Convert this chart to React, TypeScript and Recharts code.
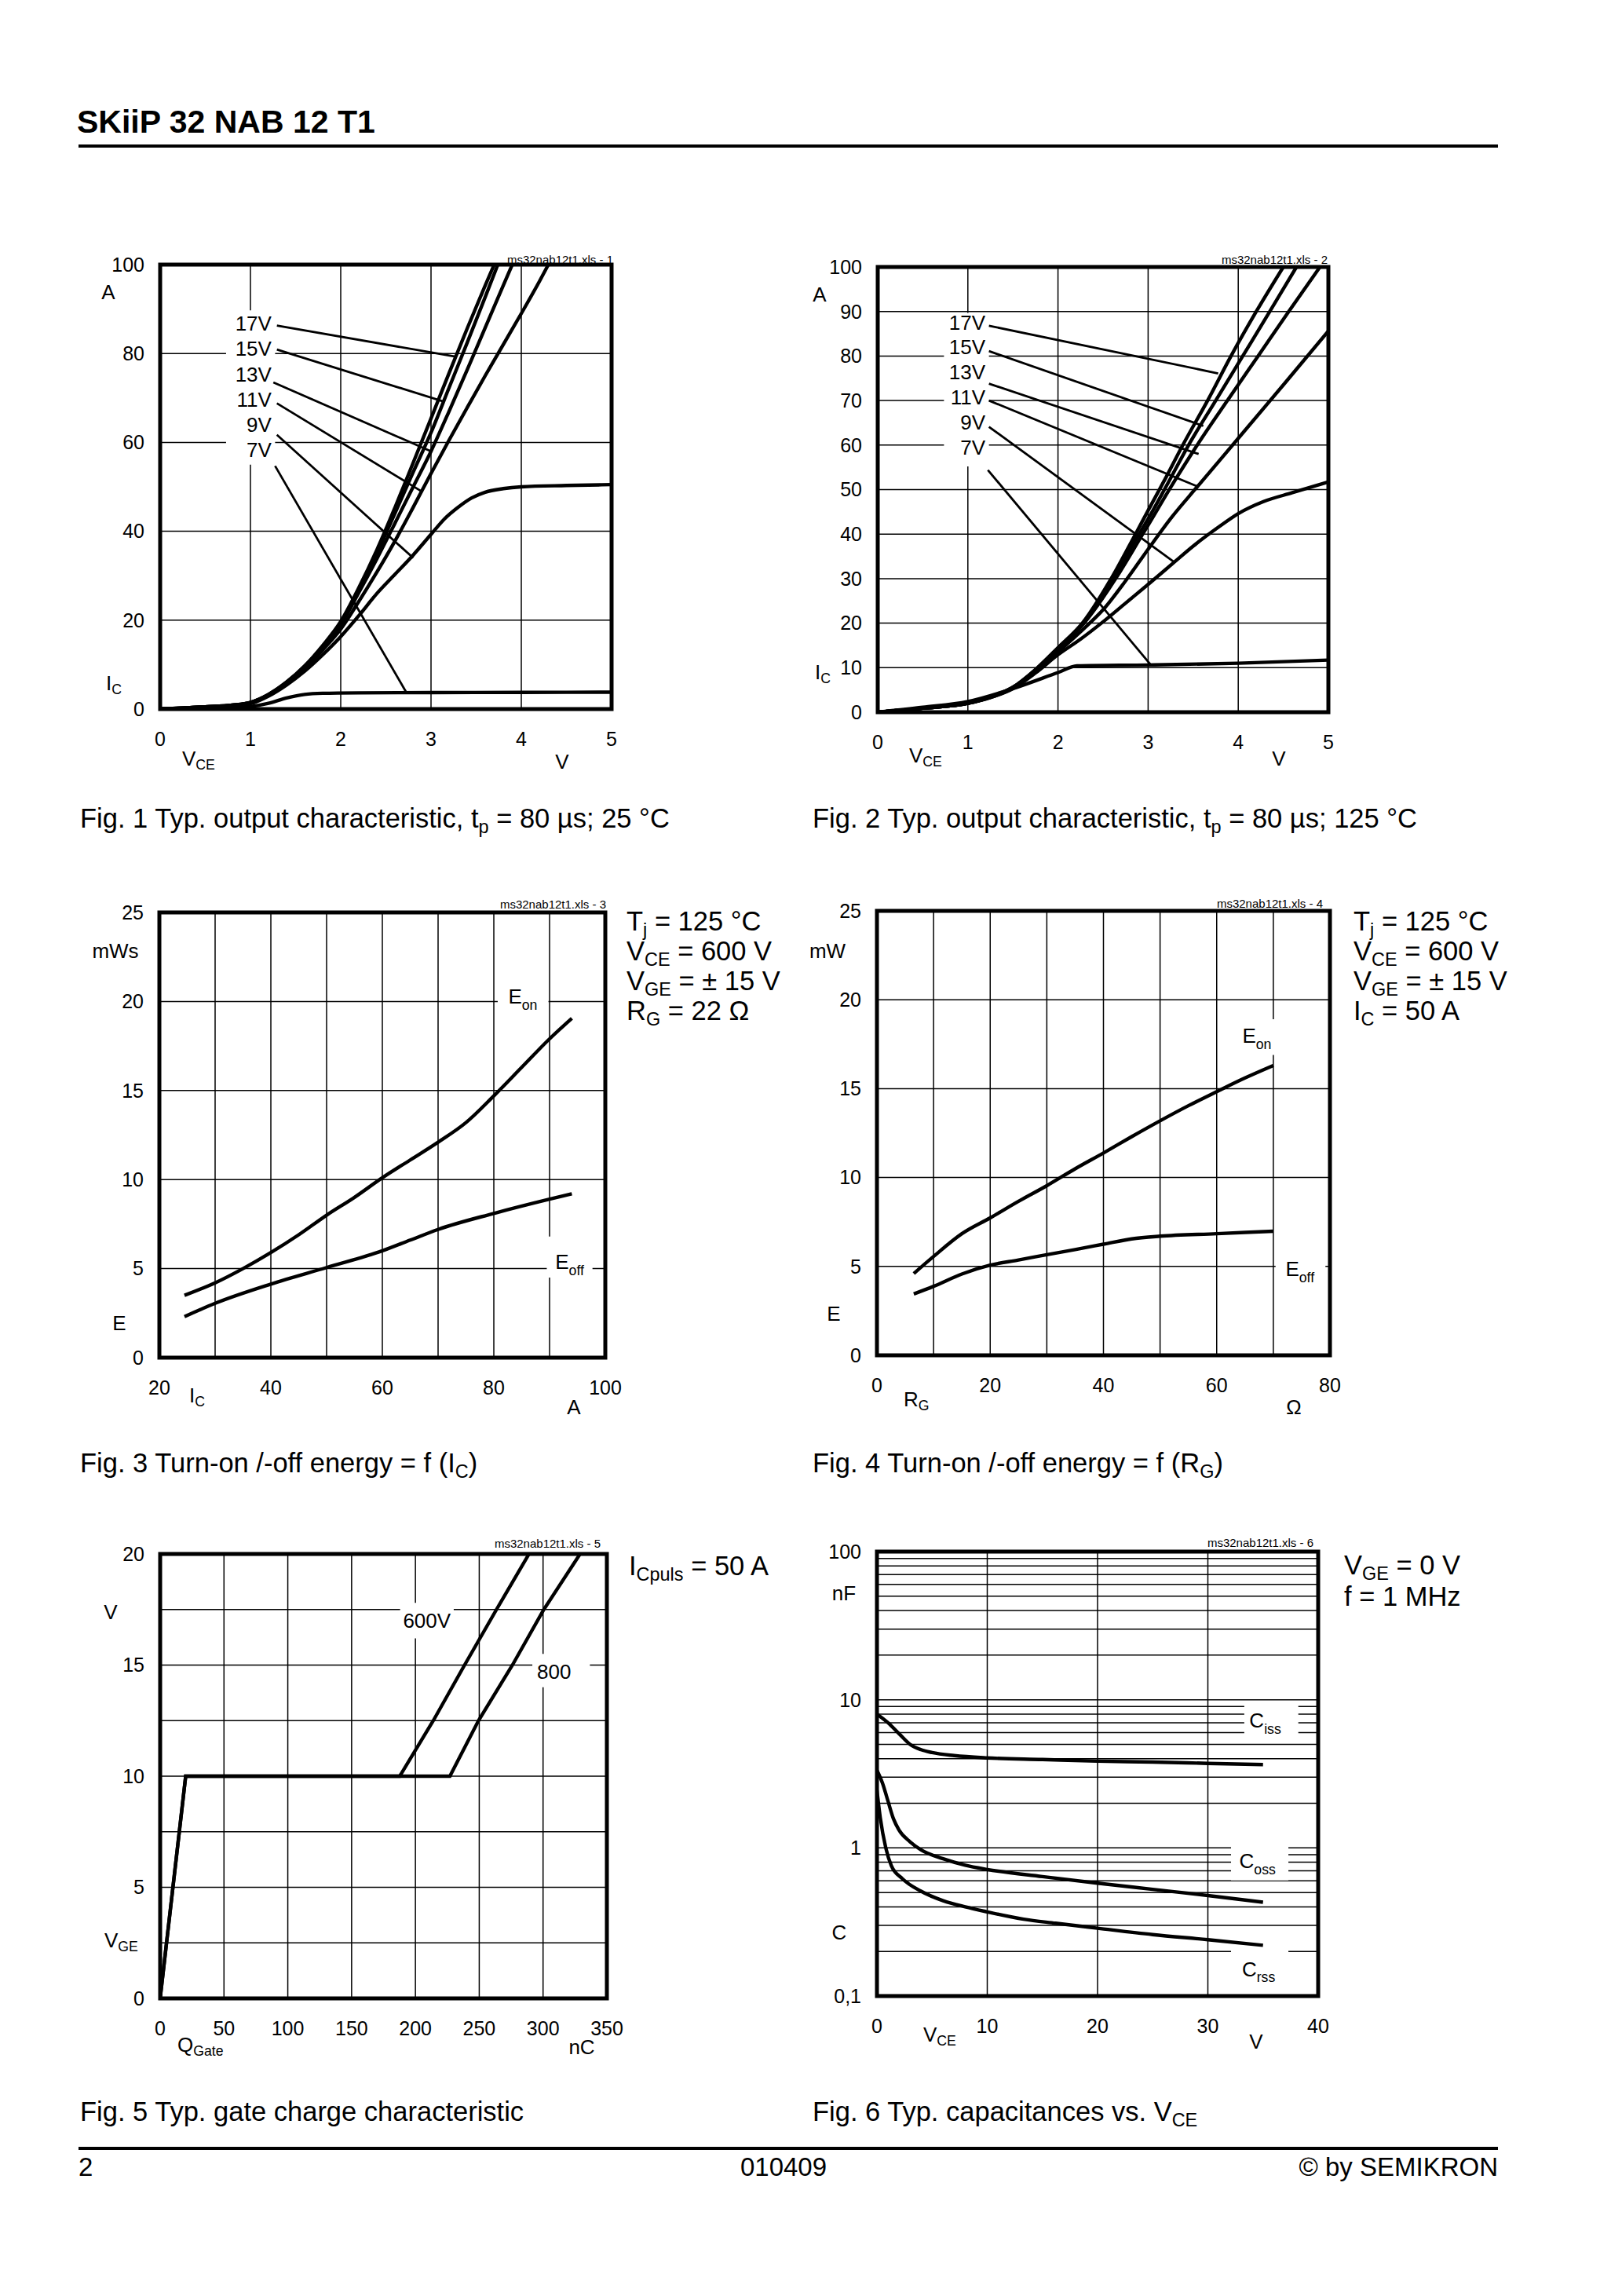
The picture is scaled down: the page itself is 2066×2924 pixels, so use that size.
import React from "react";
import {
  LineChart,
  Line,
  XAxis,
  YAxis,
  CartesianGrid,
  ReferenceArea,
  ReferenceLine,
  ReferenceDot,
} from "recharts";

const FONT = '"Liberation Sans", Arial, Helvetica, sans-serif';

type P = [number, number];

// ---- Fig. 1: output characteristic, 25 °C  (VCE in V, IC in A) ----
const f1_17V: P[] = [[0,0],[0.5,0.5],[0.8,0.9],[1,1.5],[1.2,3.3],[1.4,6.1],[1.6,9.7],[1.8,14.3],[2,19.7],[2.2,27.3],[2.4,35.8],[2.6,45.3],[2.8,55.3],[3,65.4],[3.2,75.6],[3.4,85.6],[3.6,95.3],[3.7,100]];
const f1_15V: P[] = [[0,0],[0.5,0.5],[0.8,0.9],[1,1.5],[1.2,3.3],[1.4,6],[1.6,9.6],[1.8,14.1],[2,19.4],[2.2,26.8],[2.4,35],[2.6,44],[2.8,53.2],[3,62.2],[3.2,72.3],[3.4,82.4],[3.6,92.7],[3.74,100]];
const f1_13V: P[] = [[0,0],[0.5,0.5],[0.8,0.9],[1,1.5],[1.2,3.2],[1.4,5.9],[1.6,9.4],[1.8,13.8],[2,19],[2.2,26.2],[2.4,33.8],[2.6,41.8],[2.8,49.9],[3,58],[3.2,67],[3.4,76.3],[3.6,85.8],[3.8,95.3],[3.9,100]];
const f1_11V: P[] = [[0,0],[0.5,0.5],[0.8,0.8],[1,1.4],[1.2,3.1],[1.4,5.7],[1.6,9.1],[1.8,13.3],[2,18],[2.2,24.2],[2.4,30.8],[2.6,37.8],[2.8,45.3],[3,53],[3.2,60.5],[3.4,67.8],[3.6,75],[3.8,82],[4,89],[4.2,96.2],[4.3,100]];
const f1_9V: P[] = [[0,0],[0.5,0.4],[0.8,0.7],[1,1.2],[1.2,2.9],[1.4,5.4],[1.6,8.5],[1.8,12.2],[2,16.3],[2.2,21],[2.4,26],[2.6,30.3],[2.8,34.6],[3,39.3],[3.15,42.8],[3.3,45.4],[3.45,47.5],[3.6,48.8],[3.8,49.6],[4,50],[4.5,50.3],[5,50.5]];
const f1_7V: P[] = [[0,0],[0.5,0.3],[1,0.6],[1.2,1.3],[1.4,2.5],[1.6,3.3],[1.8,3.55],[2.2,3.65],[3,3.7],[4,3.75],[5,3.8]];
const fig1Gate = ["17V", "15V", "13V", "11V", "9V", "7V"];
const fig1GateY = [86.8, 81.1, 75.4, 69.7, 64.0, 58.3];
const fig1LeadFrom: P[] = [[1.293,86.3],[1.293,80.9],[1.254,73.5],[1.293,68.8],[1.293,61.7],[1.273,54.7]];
const fig1LeadTo: P[] = [[3.27,79.3],[3.139,69.2],[3.0,58],[2.893,49],[2.803,34],[2.725,3.8]];

// ---- Fig. 2: output characteristic, 125 °C ----
const f2_17V: P[] = [[0,0],[0.5,0.9],[1,2],[1.25,3.4],[1.5,5.6],[1.75,9.6],[2,14.5],[2.27,20],[2.59,30],[2.86,40],[3,45.3],[3.2,52.8],[3.385,60],[3.66,70],[3.92,80],[4.2,90],[4.5,100]];
const f2_15V: P[] = [[0,0],[0.5,0.9],[1,2],[1.25,3.4],[1.5,5.6],[1.75,9.5],[2,14.3],[2.28,20],[2.61,30],[2.9,40],[3,43.4],[3.2,50.7],[3.449,60],[3.75,70],[4.05,80],[4.35,90],[4.646,100]];
const f2_13V: P[] = [[0,0],[0.5,0.9],[1,2],[1.25,3.4],[1.5,5.5],[1.75,9.4],[2,14],[2.29,20],[2.64,30],[2.94,40],[3,42],[3.25,50.5],[3.545,60],[3.88,70],[4.22,80],[4.56,90],[4.907,100]];
const f2_11V: P[] = [[0,0],[0.5,0.9],[1,2],[1.25,3.3],[1.5,5.4],[1.75,9.1],[2,13.5],[2.3,19],[2.5,23],[2.75,29.5],[3,36.6],[3.25,43.5],[3.548,50.7],[4,61.5],[4.5,73.5],[5,85.6]];
const f2_9V: P[] = [[0,0],[0.5,0.9],[1,2],[1.25,3.3],[1.5,5.3],[1.75,8.8],[2,12.9],[2.25,16.4],[2.5,20.3],[2.75,24.5],[3,28.7],[3.29,33.7],[3.5,37.3],[3.79,41.7],[4,44.6],[4.28,47.3],[4.6,49.3],[5,51.7]];
const f2_7V: P[] = [[0,0],[0.5,1.1],[1,2.4],[1.53,5.5],[2,8.9],[2.21,10.4],[3,10.6],[4,11],[5,11.7]];
const fig2Gate = ["17V", "15V", "13V", "11V", "9V", "7V"];
const fig2GateY = [87.6, 82.1, 76.4, 70.7, 65.1, 59.5];
const fig2LeadFrom: P[] = [[1.234,86.8],[1.234,81.1],[1.234,73.8],[1.234,70],[1.234,64.1],[1.222,54.4]];
const fig2LeadTo: P[] = [[3.777,76.1],[3.612,64.3],[3.56,58],[3.548,50.7],[3.29,33.7],[3.04,10.4]];

// ---- Fig. 3: E = f(IC)  (A, mWs) ----
const f3_Eon: P[] = [[24.5,3.5],[30,4.2],[35,5.0],[40,5.9],[45,6.9],[50,8.0],[55,9.0],[60,10.1],[65,11.1],[70,12.1],[75,13.2],[80,14.7],[85,16.3],[90,17.9],[94,19.05]];
const f3_Eoff: P[] = [[24.5,2.3],[30,3.05],[40,4.13],[50,5.06],[60,6.0],[65,6.6],[70,7.2],[80,8.1],[90,8.9],[94,9.2]];

// ---- Fig. 4: E = f(RG)  (Ohm, mW) ----
const f4_Eon: P[] = [[6.5,4.6],[10,5.56],[15,6.84],[20,7.73],[25,8.66],[30,9.54],[35,10.49],[40,11.38],[45,12.3],[50,13.19],[55,14.04],[60,14.83],[65,15.6],[70,16.3]];
const f4_Eoff: P[] = [[6.5,3.45],[10,3.88],[15,4.57],[20,5.07],[25,5.36],[30,5.66],[35,5.95],[40,6.25],[45,6.55],[50,6.7],[60,6.84],[70,6.98]];

// ---- Fig. 5: gate charge  (nC, V) ----
const f5_600V: P[] = [[0,0],[20,10],[187.7,10],[214,12.5],[238.5,15],[263.5,17.5],[289,20]];
const f5_800V: P[] = [[0,0],[20,10],[227,10],[249.4,12.5],[276,15],[300.6,17.5],[329,20]];

// ---- Fig. 6: capacitances  (V, nF) ----
const f6_Ciss: P[] = [[0,8.0],[1,7.0],[2,5.9],[3,5.0],[4,4.6],[5,4.4],[7,4.2],[10,4.05],[15,3.95],[20,3.85],[25,3.8],[30,3.72],[35,3.65]];
const f6_Coss: P[] = [[0,3.34],[0.5,2.74],[1,2.07],[1.5,1.57],[2,1.32],[3,1.1],[4,0.97],[6,0.845],[8,0.764],[10,0.715],[15,0.64],[20,0.578],[25,0.525],[30,0.477],[35,0.43]];
const f6_Crss: P[] = [[0,2.45],[0.3,1.6],[0.8,1.0],[1.3,0.76],[2.3,0.62],[4,0.51],[6,0.44],[8,0.4],[10,0.37],[13.3,0.33],[16.2,0.31],[20,0.287],[25,0.26],[30,0.24],[35,0.22]];
const f6_minor = [0.2,0.3,0.4,0.5,0.6,0.7,0.8,0.9,1,2,3,4,5,6,7,8,9,10,20,30,40,50,60,70,80,90];

const toPts = (a: P[]) => a.map(([x, y]) => ({ x, y }));

type Tag = { x: number; y: number; main: string; sub?: string; anchor?: "start" | "middle" | "end" };

const tagContent = (t: Tag, fs: number) => (p: any) => {
  const vb = p.viewBox || {};
  const cx = (vb.x ?? 0) + (vb.width ?? 0) / 2;
  const cy = (vb.y ?? 0) + (vb.height ?? 0) / 2;
  return (
    <text x={cx} y={cy + fs * 0.36} textAnchor={t.anchor ?? "middle"} fontSize={fs} fontFamily={FONT} fill="#000">
      {t.main}
      {t.sub ? <tspan fontSize={fs * 0.68} dy={fs * 0.3}>{t.sub}</tspan> : null}
    </text>
  );
};

const tickStyle = { fontSize: 25, fill: "#000", fontFamily: FONT };

function Plot(props: {
  left: number; top: number; w: number; h: number;
  xDomain: [number, number]; yDomain: [number, number];
  xTicks: number[]; yTicks: number[]; xGrid: number[]; yGrid: number[];
  logY?: boolean; yFmt?: (v: number) => string;
  series: P[][]; linear?: boolean;
  boxes?: [number, number, number, number][];
  leads?: [P, P][];
  tags?: Tag[]; tagSize?: number;
}) {
  const padL = 110, padT = 30, padR = 30, padB = 80;
  const W = props.w + padL + padR;
  const H = props.h + padT + padB;
  const [x0, x1] = props.xDomain;
  const [y0, y1] = props.yDomain;
  return (
    <div style={{ position: "absolute", left: props.left - padL, top: props.top - padT }}>
      <LineChart width={W} height={H} margin={{ top: padT, right: padR, left: padL - 60, bottom: padB - 60 }}>
        <CartesianGrid stroke="#000" strokeWidth={1.5} horizontalValues={props.yGrid} verticalValues={props.xGrid} />
        <XAxis type="number" dataKey="x" domain={props.xDomain} ticks={props.xTicks} interval={0}
          allowDataOverflow height={60} axisLine={false} tickLine={false} tickSize={0} tickMargin={29} tick={tickStyle} />
        <YAxis type="number" dataKey="y" domain={props.yDomain} ticks={props.yTicks} interval={0}
          scale={props.logY ? "log" : "auto"} allowDataOverflow width={60} axisLine={false} tickLine={false}
          tickSize={0} tickMargin={20} tick={tickStyle} tickFormatter={props.yFmt} />
        {(props.boxes || []).map((b, i) => (
          <ReferenceArea key={"b" + i} x1={b[0]} x2={b[1]} y1={b[2]} y2={b[3]} fill="#fff" fillOpacity={1} stroke="none" />
        ))}
        {(props.leads || []).map((l, i) => (
          <ReferenceLine key={"l" + i} segment={[{ x: l[0][0], y: l[0][1] }, { x: l[1][0], y: l[1][1] }]} stroke="#000" strokeWidth={2.8} />
        ))}
        {props.series.map((s, i) => (
          <Line key={"s" + i} data={toPts(s)} dataKey="y" type={props.linear ? "linear" : "monotone"} stroke="#000"
            strokeWidth={4.4} dot={false} activeDot={false} isAnimationActive={false} />
        ))}
        {(props.tags || []).map((t, i) => (
          <ReferenceDot key={"t" + i} x={t.x} y={t.y} r={0} fill="none" stroke="none" label={tagContent(t, props.tagSize ?? 25)} />
        ))}
        <ReferenceArea x1={x0} x2={x1} y1={y0} y2={y1} fill="none" stroke="#000" strokeWidth={5} />
      </LineChart>
    </div>
  );
}

function Txt({ x, y, size = 25, align = "left", bold = false, children }: any) {
  const tx = align === "center" ? "-50%" : align === "right" ? "-100%" : "0";
  return (
    <div style={{ position: "absolute", left: x, top: y, transform: `translate(${tx}, -50%)`, fontSize: size,
      fontFamily: FONT, fontWeight: bold ? 700 : 400, lineHeight: 1, whiteSpace: "nowrap", color: "#000" }}>
      {children}
    </div>
  );
}
const Sb = ({ children }: any) => (
  <span style={{ fontSize: "0.68em", position: "relative", top: "0.28em" }}>{children}</span>
);

const gateTags = (names: string[], ys: number[], x: number): Tag[] =>
  names.map((n, i) => ({ x, y: ys[i], main: n, anchor: "end" }));
const pairs = (a: P[], b: P[]): [P, P][] => a.map((p, i) => [p, b[i]]);

export default function App() {
  return (
    <div style={{ position: "absolute", left: 0, top: 0, width: 2066, height: 2924, background: "#fff" }}>
      {/* header */}
      <Txt x={98} y={155} size={41} bold>SKiiP 32 NAB 12 T1</Txt>
      <div style={{ position: "absolute", left: 100, top: 184, width: 1808, height: 4, background: "#000" }} />

      {/* Fig 1 */}
      <Plot left={204} top={337} w={575} h={566} xDomain={[0, 5]} yDomain={[0, 100]}
        xTicks={[0, 1, 2, 3, 4, 5]} yTicks={[0, 20, 40, 60, 80, 100]} xGrid={[1, 2, 3, 4]} yGrid={[20, 40, 60, 80]}
        series={[f1_17V, f1_15V, f1_13V, f1_11V, f1_9V, f1_7V]}
        boxes={[[0.73, 1.273, 55, 89.7]]} leads={pairs(fig1LeadFrom, fig1LeadTo)}
        tags={gateTags(fig1Gate, fig1GateY, 1.234)} tagSize={26} />
      <Txt x={781} y={330} size={15} align="right">ms32nab12t1.xls - 1</Txt>
      <Txt x={138} y={372} size={26} align="center">A</Txt>
      <Txt x={135} y={870} size={26}>I<Sb>C</Sb></Txt>
      <Txt x={232} y={966} size={26}>V<Sb>CE</Sb></Txt>
      <Txt x={716} y={970} size={26} align="center">V</Txt>
      <Txt x={102} y={1042} size={34.5}>Fig. 1 Typ. output characteristic, t<Sb>p</Sb> = 80 µs; 25 °C</Txt>

      {/* Fig 2 */}
      <Plot left={1118} top={340} w={574} h={567} xDomain={[0, 5]} yDomain={[0, 100]}
        xTicks={[0, 1, 2, 3, 4, 5]} yTicks={[0, 10, 20, 30, 40, 50, 60, 70, 80, 90, 100]} xGrid={[1, 2, 3, 4]}
        yGrid={[10, 20, 30, 40, 50, 60, 70, 80, 90]}
        series={[f2_17V, f2_15V, f2_13V, f2_11V, f2_9V, f2_7V]}
        boxes={[[0.735, 1.234, 55.2, 89.7]]} leads={pairs(fig2LeadFrom, fig2LeadTo)}
        tags={gateTags(fig2Gate, fig2GateY, 1.194)} tagSize={26} />
      <Txt x={1691} y={330} size={15} align="right">ms32nab12t1.xls - 2</Txt>
      <Txt x={1044} y={375} size={26} align="center">A</Txt>
      <Txt x={1038} y={856} size={26}>I<Sb>C</Sb></Txt>
      <Txt x={1158} y={962} size={26}>V<Sb>CE</Sb></Txt>
      <Txt x={1629} y={966} size={26} align="center">V</Txt>
      <Txt x={1035} y={1042} size={34.5}>Fig. 2 Typ. output characteristic, t<Sb>p</Sb> = 80 µs; 125 °C</Txt>

      {/* Fig 3 */}
      <Plot left={203} top={1162} w={568} h={567} xDomain={[20, 100]} yDomain={[0, 25]}
        xTicks={[20, 40, 60, 80, 100]} yTicks={[0, 5, 10, 15, 20, 25]} xGrid={[30, 40, 50, 60, 70, 80, 90]}
        yGrid={[5, 10, 15, 20]} series={[f3_Eon, f3_Eoff]}
        boxes={[[80.7, 89.8, 19.3, 21.3], [89.5, 97.7, 4.5, 6.8]]}
        tags={[{ x: 85.2, y: 20.3, main: "E", sub: "on" }, { x: 93.6, y: 5.4, main: "E", sub: "off" }]} tagSize={26} />
      <Txt x={772} y={1151} size={15} align="right">ms32nab12t1.xls - 3</Txt>
      <Txt x={147} y={1211} size={26} align="center">mWs</Txt>
      <Txt x={152} y={1685} size={26} align="center">E</Txt>
      <Txt x={241} y={1777} size={26}>I<Sb>C</Sb></Txt>
      <Txt x={731} y={1792} size={26} align="center">A</Txt>
      <Txt x={798} y={1173} size={34.5}>T<Sb>j</Sb> = 125 °C</Txt>
      <Txt x={798} y={1211} size={34.5}>V<Sb>CE</Sb> = 600 V</Txt>
      <Txt x={798} y={1249} size={34.5}>V<Sb>GE</Sb> = ± 15 V</Txt>
      <Txt x={798} y={1287} size={34.5}>R<Sb>G</Sb> = 22 Ω</Txt>
      <Txt x={102} y={1863} size={34.5}>Fig. 3 Turn-on /-off energy = f (I<Sb>C</Sb>)</Txt>

      {/* Fig 4 */}
      <Plot left={1117} top={1160} w={577} h={566} xDomain={[0, 80]} yDomain={[0, 25]}
        xTicks={[0, 20, 40, 60, 80]} yTicks={[0, 5, 10, 15, 20, 25]} xGrid={[10, 20, 30, 40, 50, 60, 70]}
        yGrid={[5, 10, 15, 20]} series={[f4_Eon, f4_Eoff]}
        boxes={[[64, 70.4, 16.9, 18.9], [70.4, 79.2, 4.18, 5.56]]}
        tags={[{ x: 67.1, y: 18.0, main: "E", sub: "on" }, { x: 74.7, y: 4.87, main: "E", sub: "off" }]} tagSize={26} />
      <Txt x={1685} y={1150} size={15} align="right">ms32nab12t1.xls - 4</Txt>
      <Txt x={1054} y={1211} size={26} align="center">mW</Txt>
      <Txt x={1062} y={1673} size={26} align="center">E</Txt>
      <Txt x={1151} y={1782} size={26}>R<Sb>G</Sb></Txt>
      <Txt x={1648} y={1792} size={26} align="center">Ω</Txt>
      <Txt x={1724} y={1173} size={34.5}>T<Sb>j</Sb> = 125 °C</Txt>
      <Txt x={1724} y={1211} size={34.5}>V<Sb>CE</Sb> = 600 V</Txt>
      <Txt x={1724} y={1249} size={34.5}>V<Sb>GE</Sb> = ± 15 V</Txt>
      <Txt x={1724} y={1287} size={34.5}>I<Sb>C</Sb> = 50 A</Txt>
      <Txt x={1035} y={1863} size={34.5}>Fig. 4 Turn-on /-off energy = f (R<Sb>G</Sb>)</Txt>

      {/* Fig 5 */}
      <Plot left={204} top={1979} w={569} h={566} xDomain={[0, 350]} yDomain={[0, 20]}
        xTicks={[0, 50, 100, 150, 200, 250, 300, 350]} yTicks={[0, 5, 10, 15, 20]}
        xGrid={[50, 100, 150, 200, 250, 300]} yGrid={[2.5, 5, 7.5, 10, 12.5, 15, 17.5]}
        series={[f5_600V, f5_800V]} linear
        boxes={[[188, 230, 16.2, 17.8], [291.6, 336.7, 14.0, 15.5]]}
        tags={[{ x: 209, y: 17.0, main: "600V" }, { x: 308.6, y: 14.7, main: "800" }]} tagSize={26} />
      <Txt x={765} y={1965} size={15} align="right">ms32nab12t1.xls - 5</Txt>
      <Txt x={141} y={2053} size={26} align="center">V</Txt>
      <Txt x={133} y={2471} size={26}>V<Sb>GE</Sb></Txt>
      <Txt x={226} y={2604} size={26}>Q<Sb>Gate</Sb></Txt>
      <Txt x={741} y={2607} size={26} align="center">nC</Txt>
      <Txt x={801} y={1994} size={34.5}>I<Sb>Cpuls</Sb> = 50 A</Txt>
      <Txt x={102} y={2689} size={34.5}>Fig. 5 Typ. gate charge characteristic</Txt>

      {/* Fig 6 */}
      <Plot left={1117} top={1976} w={562} h={566} xDomain={[0, 40]} yDomain={[0.1, 100]} logY
        yFmt={(v: number) => (v === 0.1 ? "0,1" : String(v))}
        xTicks={[0, 10, 20, 30, 40]} yTicks={[0.1, 1, 10, 100]} xGrid={[10, 20, 30]} yGrid={f6_minor}
        series={[f6_Ciss, f6_Coss, f6_Crss]}
        boxes={[[33.3, 38.2, 5.84, 9.4], [32.1, 37.3, 0.604, 1.06], [32.1, 37.3, 0.126, 0.208]]}
        tags={[{ x: 35.2, y: 7.3, main: "C", sub: "iss" }, { x: 34.5, y: 0.822, main: "C", sub: "oss" },
          { x: 34.6, y: 0.153, main: "C", sub: "rss" }]} tagSize={26} />
      <Txt x={1673} y={1964} size={15} align="right">ms32nab12t1.xls - 6</Txt>
      <Txt x={1075} y={2029} size={26} align="center">nF</Txt>
      <Txt x={1069} y={2461} size={26} align="center">C</Txt>
      <Txt x={1176} y={2591} size={26}>V<Sb>CE</Sb></Txt>
      <Txt x={1600} y={2600} size={26} align="center">V</Txt>
      <Txt x={1712} y={1993} size={34.5}>V<Sb>GE</Sb> = 0 V</Txt>
      <Txt x={1712} y={2033} size={34.5}>f = 1 MHz</Txt>
      <Txt x={1035} y={2689} size={34.5}>Fig. 6 Typ. capacitances vs. V<Sb>CE</Sb></Txt>

      {/* footer */}
      <div style={{ position: "absolute", left: 100, top: 2734, width: 1808, height: 4, background: "#000" }} />
      <Txt x={100} y={2759} size={33}>2</Txt>
      <Txt x={998} y={2759} size={33} align="center">010409</Txt>
      <Txt x={1908} y={2759} size={33} align="right">© by SEMIKRON</Txt>
    </div>
  );
}
